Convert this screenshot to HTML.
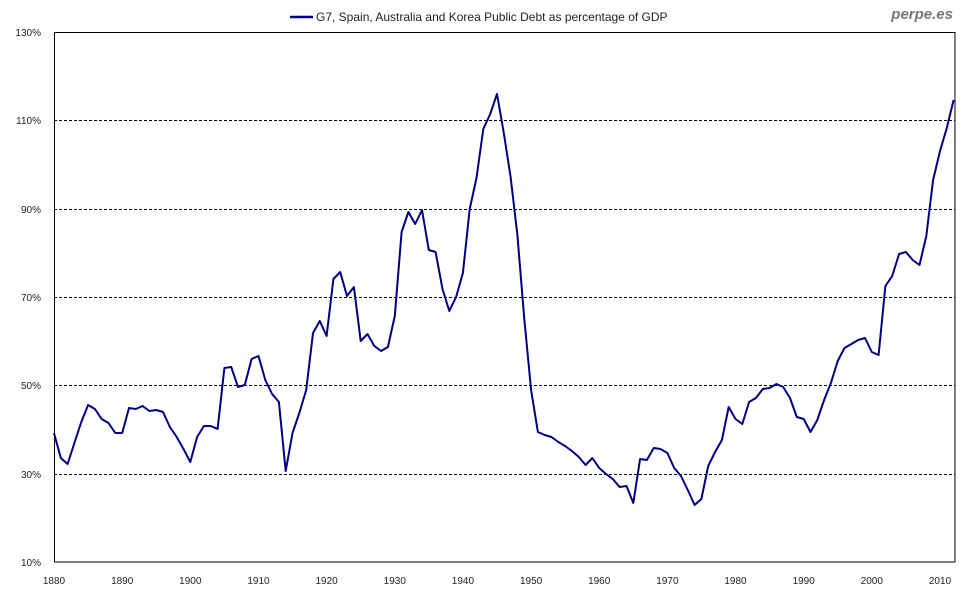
<!DOCTYPE html>
<html><head><meta charset="utf-8"><style>
html,body{margin:0;padding:0;background:#fff;}
svg text{font-family:"Liberation Sans",Arial,sans-serif;}
</style></head><body>
<svg width="980" height="600" xmlns="http://www.w3.org/2000/svg">
<rect width="980" height="600" fill="#fff"/>
<g stroke="#000" stroke-width="1" stroke-dasharray="3,2">
<line x1="54" x2="955" y1="120.5" y2="120.5"/>
<line x1="54" x2="955" y1="209.5" y2="209.5"/>
<line x1="54" x2="955" y1="297.5" y2="297.5"/>
<line x1="54" x2="955" y1="385.5" y2="385.5"/>
<line x1="54" x2="955" y1="474.5" y2="474.5"/>
</g>
<rect x="54.5" y="32.5" width="900.5" height="529.5" fill="none" stroke="#000" stroke-width="1"/>
<g font-size="10" fill="#222" text-anchor="end">
<text x="41" y="36">130%</text>
<text x="41" y="124">110%</text>
<text x="41" y="213">90%</text>
<text x="41" y="301">70%</text>
<text x="41" y="389">50%</text>
<text x="41" y="478">30%</text>
<text x="41" y="566">10%</text>
</g>
<g font-size="10" fill="#222" text-anchor="middle">
<text x="54" y="584">1880</text>
<text x="122.2" y="584">1890</text>
<text x="190.3" y="584">1900</text>
<text x="258.5" y="584">1910</text>
<text x="326.6" y="584">1920</text>
<text x="394.8" y="584">1930</text>
<text x="462.9" y="584">1940</text>
<text x="531.1" y="584">1950</text>
<text x="599.2" y="584">1960</text>
<text x="667.4" y="584">1970</text>
<text x="735.5" y="584">1980</text>
<text x="803.7" y="584">1990</text>
<text x="871.8" y="584">2000</text>
<text x="940" y="584">2010</text>
</g>
<line x1="290" x2="313" y1="17" y2="17" stroke="#000080" stroke-width="2.5"/>
<text x="316" y="21" font-size="12" fill="#222">G7, Spain, Australia and Korea Public Debt as percentage of GDP</text>
<text x="953" y="19" font-size="15" font-weight="bold" font-style="italic" fill="#777" text-anchor="end">perpe.es</text>
<polyline fill="none" stroke="#000080" stroke-width="2" stroke-linejoin="round" points="54.0,433 60.8,458 67.6,464 74.4,443 81.3,422 88.1,405 94.9,409 101.7,419 108.5,423 115.3,433 122.2,433 129.0,408 135.8,409 142.6,406 149.4,411 156.2,410 163.0,412 169.9,427 176.7,437 183.5,449 190.3,462 197.1,437 203.9,426 210.7,426 217.6,429 224.4,368 231.2,367 238.0,387 244.8,385 251.6,359 258.5,356 265.3,380 272.1,394 278.9,402 285.7,471 292.5,433 299.3,413 306.2,390 313.0,333 319.8,321 326.6,336 333.4,279 340.2,272 347.0,296 353.9,287 360.7,341 367.5,334 374.3,346 381.1,351 387.9,347 394.8,316 401.6,232 408.4,212 415.2,224 422.0,210 428.8,250 435.6,252 442.5,289 449.3,311 456.1,297 462.9,273 469.7,209 476.5,178 483.3,129 490.2,114 497.0,94 503.8,133 510.6,177 517.4,235 524.2,318 531.1,390 537.9,432 544.7,435 551.5,437 558.3,442 565.1,446 571.9,451 578.8,457 585.6,465 592.4,458 599.2,468 606.0,474 612.8,479 619.6,487 626.5,486 633.3,503 640.1,459 646.9,460 653.7,448 660.5,449 667.4,453 674.2,468 681.0,476 687.8,490 694.6,505 701.4,499 708.2,466 715.1,452 721.9,440 728.7,407 735.5,419 742.3,424 749.1,402 755.9,398 762.8,389 769.6,388 776.4,384 783.2,387 790.0,398 796.8,417 803.7,419 810.5,432 817.3,420 824.1,400 830.9,383 837.7,361 844.5,348 851.4,344 858.2,340 865.0,338 871.8,352 878.6,355 885.4,286 892.2,276 899.1,254 905.9,252 912.7,260 919.5,265 926.3,236 933.1,180 940.0,151 946.8,128 953.6,100"/>
</svg>
</body></html>
